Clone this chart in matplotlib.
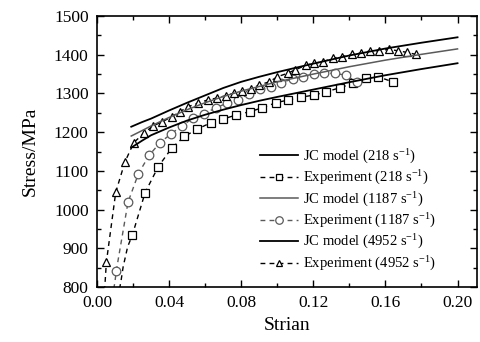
import matplotlib
matplotlib.use("Agg")
import matplotlib.pyplot as plt
from matplotlib.lines import Line2D
from matplotlib.ticker import MultipleLocator

plt.rcParams['font.family'] = ['Liberation Serif', 'DejaVu Serif']
plt.rcParams['mathtext.fontset'] = 'stix'
plt.rcParams['mathtext.default'] = 'regular'

# ---------------- data ----------------
jc_strain = [0.0190, 0.025, 0.03, 0.04, 0.05, 0.06, 0.07, 0.08, 0.09, 0.10,
             0.12, 0.14, 0.16, 0.18, 0.20]
jc_218 = [1160, 1178, 1192, 1212, 1230, 1245, 1258, 1270, 1281, 1291,
          1310, 1329, 1347, 1363, 1378]
jc_1187 = [1190, 1204, 1216, 1238, 1258, 1276, 1292, 1306, 1318, 1330,
           1350, 1369, 1386, 1401, 1415]
jc_4952 = [1214, 1226, 1235, 1256, 1276, 1295, 1314, 1330, 1343, 1355,
           1377, 1398, 1416, 1431, 1445]

# experiment 218 s^-1
exp218_tail_strain = [0.0125, 0.0133, 0.0145, 0.0170]
exp218_tail_stress = [795, 815, 852, 904]
exp218_strain = [0.0196, 0.0267, 0.034, 0.0415, 0.0485, 0.0557, 0.063, 0.070,
                 0.077, 0.0848, 0.0918, 0.0993, 0.106, 0.113, 0.1206, 0.127,
                 0.135, 0.142, 0.149, 0.156, 0.164]
exp218_stress = [934, 1044, 1111, 1159, 1189, 1208, 1224, 1234, 1244, 1253,
                 1263, 1276, 1283, 1290, 1296, 1304, 1315, 1326, 1339, 1343, 1330]

# experiment 1187 s^-1
exp1187_tail_strain = [0.0093, 0.0100]
exp1187_tail_stress = [795, 815]
exp1187_strain = [0.0107, 0.0172, 0.023, 0.0289, 0.035, 0.0412, 0.047, 0.0533,
                  0.0592, 0.0658, 0.072, 0.078, 0.0844, 0.0904, 0.0965, 0.102,
                  0.1085, 0.1144, 0.1206, 0.126, 0.132, 0.138, 0.144]
exp1187_stress = [842, 1019, 1093, 1140, 1173, 1196, 1216, 1236, 1248, 1262,
                  1275, 1283, 1299, 1311, 1317, 1328, 1337, 1343, 1350, 1352,
                  1352, 1347, 1330]

# experiment 4952 s^-1
exp4952_tail_strain = [0.0042, 0.0046]
exp4952_tail_stress = [790, 820]
exp4952_strain = [0.0052, 0.0104, 0.0155, 0.0204, 0.0262, 0.031, 0.0363, 0.0415,
                  0.046, 0.0507, 0.056, 0.0613, 0.0663, 0.0713, 0.076, 0.0807,
                  0.0854, 0.09, 0.0956, 0.1, 0.1057, 0.110, 0.116, 0.1206,
                  0.1256, 0.1307, 0.136, 0.1415, 0.1465, 0.1515, 0.1567, 0.162,
                  0.167, 0.172, 0.1767]
exp4952_stress = [864, 1045, 1123, 1173, 1198, 1216, 1227, 1240, 1253, 1266,
                  1275, 1283, 1288, 1294, 1301, 1306, 1311, 1322, 1330, 1343,
                  1352, 1361, 1373, 1378, 1382, 1391, 1395, 1401, 1404, 1410,
                  1410, 1414, 1410, 1406, 1401]

labels = ["JC model (218 s$^{-1}$)", "Experiment (218 s$^{-1}$)",
          "JC model (1187 s$^{-1}$)", "Experiment (1187 s$^{-1}$)",
          "JC model (4952 s$^{-1}$)", "Experiment (4952 s$^{-1}$)"]

# ---------------- figure ----------------
fig = plt.figure(figsize=(4.8, 3.42), dpi=100)
ax = fig.add_axes([97/480, 55/342, 380/480, 271/342])

BLACK = '#000000'
GRAY = '#5a5a5a'
DASH = (3.5, 3.0)
ms = 5.8

def exp_series(tx, ty, x, y, marker, color, size):
    ax.plot(tx + x, ty + y, color=color, lw=1.0, dashes=DASH, zorder=2)
    ax.plot(x, y, ls='none', marker=marker, ms=size, mfc='white',
            mec=color, mew=0.9, zorder=3)

exp_series(exp218_tail_strain, exp218_tail_stress, exp218_strain, exp218_stress,
           's', BLACK, ms)
exp_series(exp1187_tail_strain, exp1187_tail_stress, exp1187_strain, exp1187_stress,
           'o', GRAY, ms + 0.4)
exp_series(exp4952_tail_strain, exp4952_tail_stress, exp4952_strain, exp4952_stress,
           '^', BLACK, ms)

ax.plot(jc_strain, jc_218, color=BLACK, lw=1.3, zorder=4)
ax.plot(jc_strain, jc_1187, color=GRAY, lw=1.1, zorder=4)
ax.plot(jc_strain, jc_4952, color=BLACK, lw=1.3, zorder=4)

ax.set_xlim(0, 0.2108)
ax.set_ylim(800, 1500)
ax.xaxis.set_major_locator(MultipleLocator(0.04))
ax.xaxis.set_minor_locator(MultipleLocator(0.02))
ax.yaxis.set_major_locator(MultipleLocator(100))
ax.yaxis.set_minor_locator(MultipleLocator(50))
ax.xaxis.set_major_formatter(plt.FuncFormatter(lambda v, p: f"{v:.2f}"))
ax.tick_params(which='both', direction='in', top=True, right=True, width=1.0)
ax.tick_params(which='major', length=5, labelsize=12.5, pad=6)
ax.tick_params(which='minor', length=3)
for s in ax.spines.values():
    s.set_linewidth(1.2)

ax.set_xlabel("Strian", fontsize=14, labelpad=4)
ax.set_ylabel("Stress/MPa", fontsize=14, labelpad=11)

lms = 5.0
handles = [
    Line2D([], [], color=BLACK, lw=1.3),
    Line2D([], [], color=BLACK, lw=1.0, dashes=DASH, marker='s', ms=lms,
           mfc='white', mec=BLACK, mew=0.9),
    Line2D([], [], color=GRAY, lw=1.1),
    Line2D([], [], color=GRAY, lw=1.0, dashes=DASH, marker='o', ms=lms + 0.4,
           mfc='white', mec=GRAY, mew=0.9),
    Line2D([], [], color=BLACK, lw=1.3),
    Line2D([], [], color=BLACK, lw=1.0, dashes=DASH, marker='^', ms=lms,
           mfc='white', mec=BLACK, mew=0.9),
]
ax.legend(handles, labels, loc='upper left', bbox_to_anchor=(0.428, 0.515),
          frameon=False, fontsize=10.5, handlelength=2.6, handletextpad=0.4,
          labelspacing=0.22, borderpad=0, borderaxespad=0, numpoints=1)

fig.savefig("out.png", dpi=100)
